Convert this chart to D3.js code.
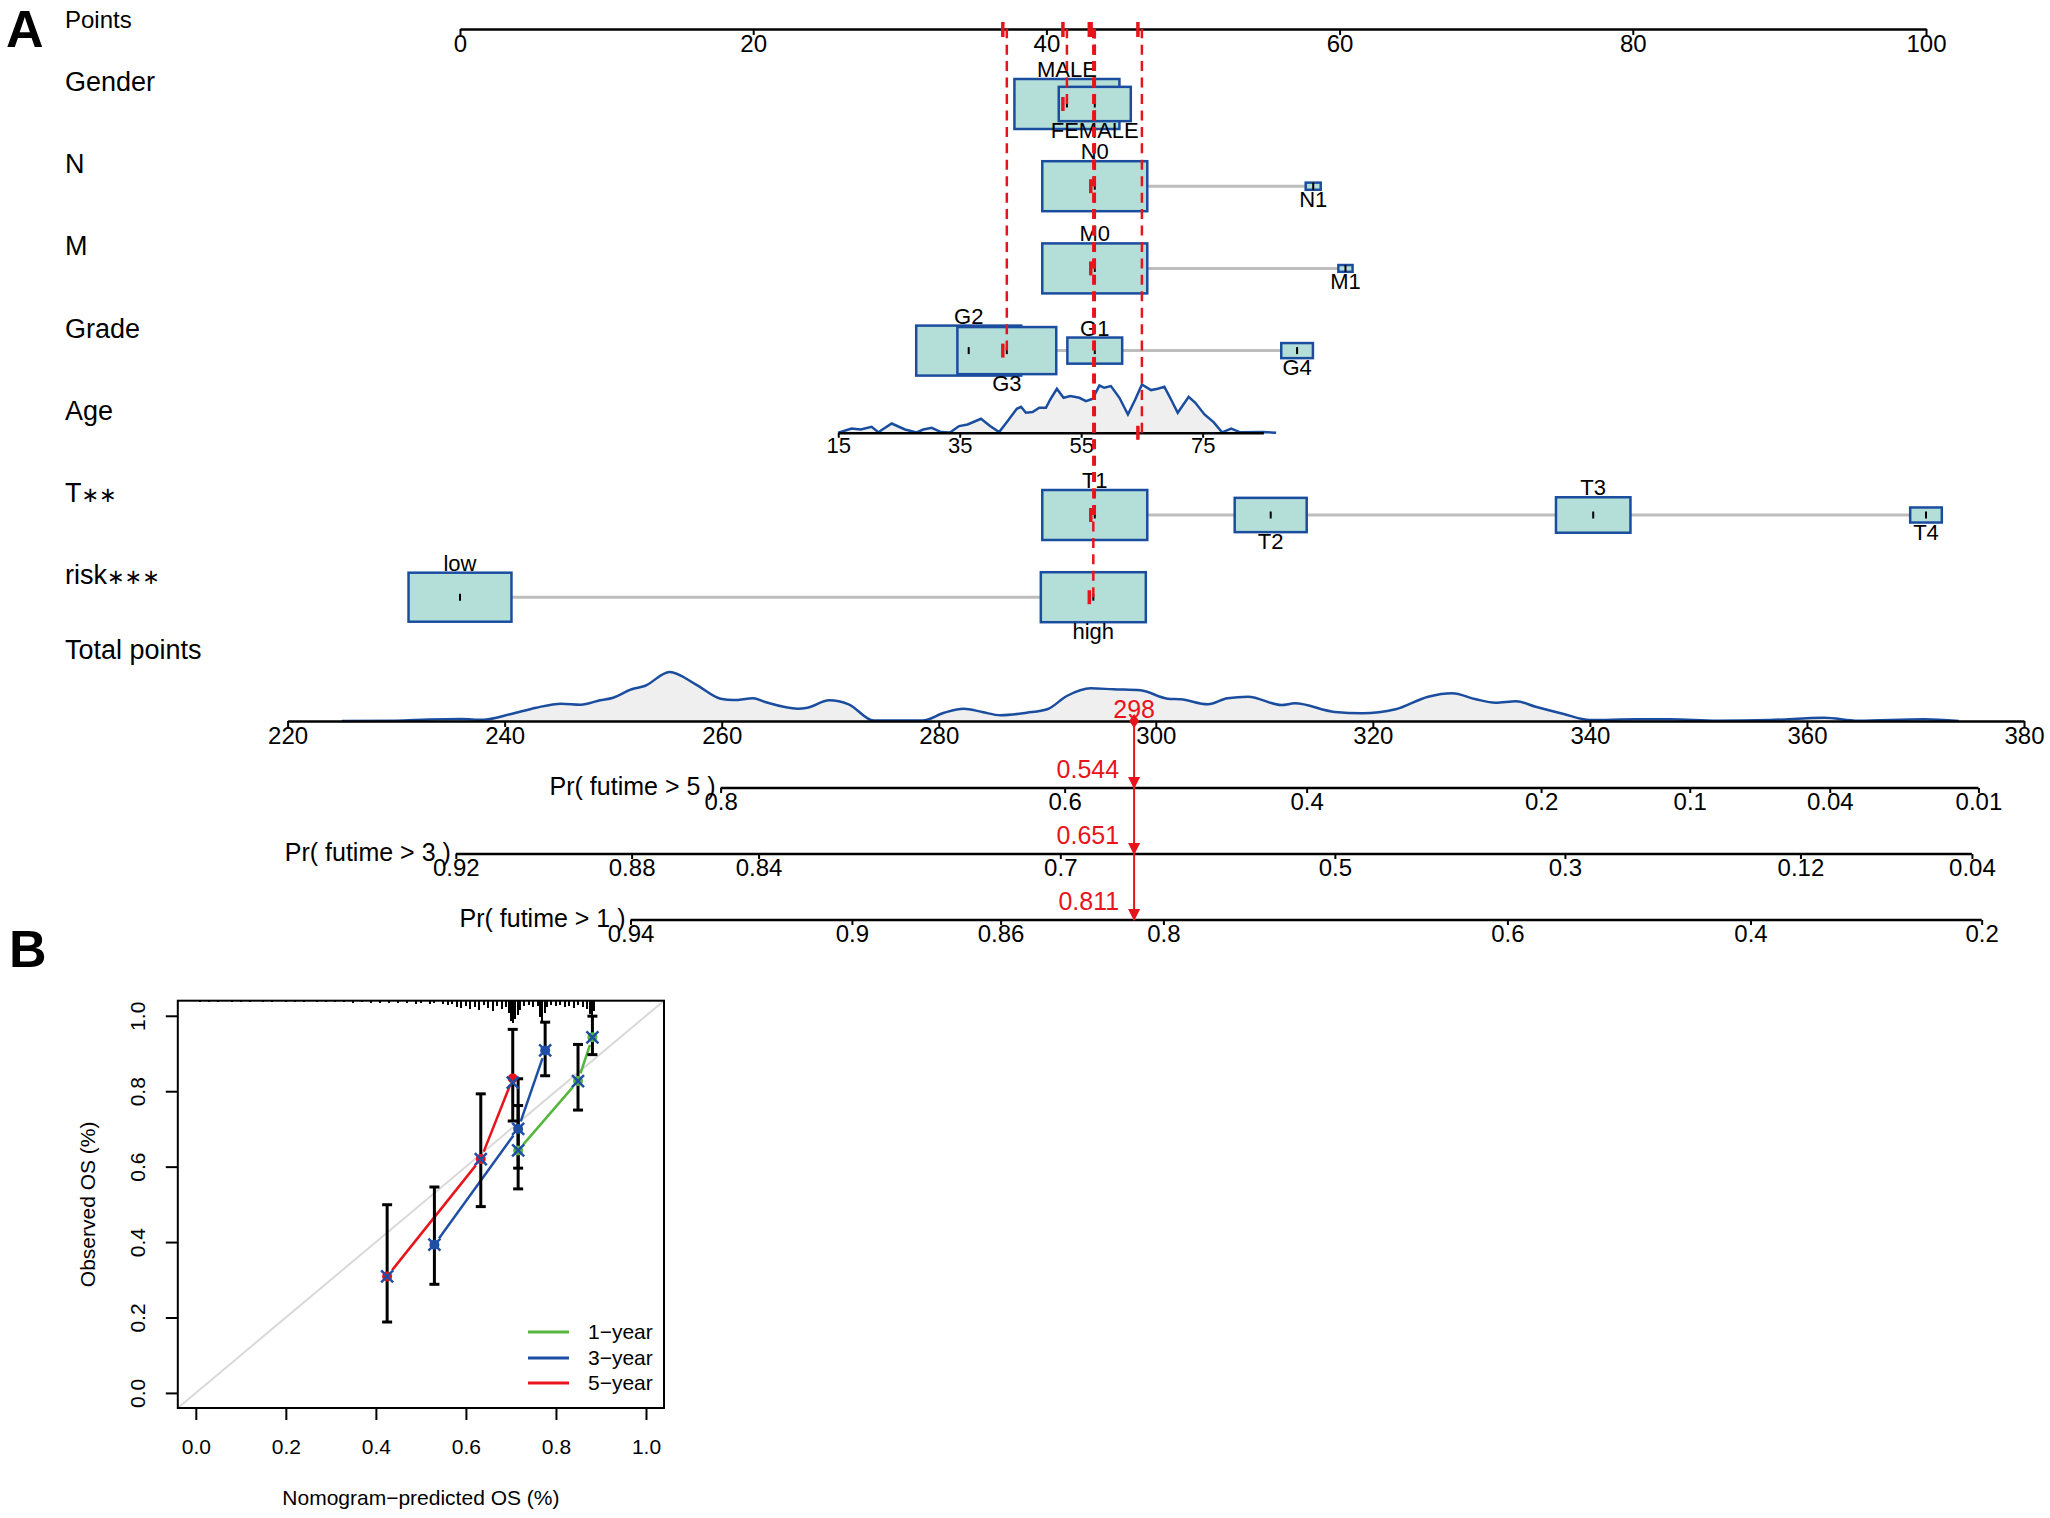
<!DOCTYPE html>
<html>
<head>
<meta charset="utf-8">
<script src="https://cdn.jsdelivr.net/npm/d3@7"></script>
<style>
  body { margin: 0; background: #fff; }
</style>
</head>
<body>
<div id="chart"></div>
<script>
// ---------- panel A : nomogram ----------
const pointTicks = [0, 20, 40, 60, 80, 100];

const genderCats = ["MALE", "FEMALE"];
const genderPts = [41.4, 43.3];
const genderFreq = [0.68, 0.32];

const nCats = ["N0", "N1"];
const nPts = [43.3, 58.2];
const nFreq = [0.98, 0.02];

const mCats = ["M0", "M1"];
const mPts = [43.3, 60.4];
const mFreq = [0.98, 0.018];

const gradeCats = ["G2", "G3", "G1", "G4"];
const gradePts = [34.7, 37.3, 43.3, 57.1];
const gradeFreq = [0.44, 0.39, 0.12, 0.04];

const ageTicks = [15, 35, 55, 75];
const ageRange = [15, 85];
const agePtsRange = [25.8, 54.8];
// [age, density]
const ageDens = [[15,0],[17.2,4.3],[18.7,3.3],[20.5,6],[21.6,0.5],[23.8,9.3],[26,3.3],[27.9,0.3],
  [29,3.3],[30.4,5],[31.9,0.7],[33.4,0.3],[34.9,6.7],[36.3,8.3],[38.5,14],[40,6.7],[41.5,0.7],
  [42.9,11.7],[44.4,24],[45.1,26],[45.9,20],[47,20.7],[48.1,25],[49.2,25],[49.9,33.3],[51,44],
  [52.1,35],[53.2,36.7],[54.7,35],[55.8,31.7],[56.9,34],[58,47.3],[58.8,45],[59.9,46.7],[61.3,35],
  [62.7,18.3],[63.9,33.3],[65,48.3],[66.5,42.7],[67.6,44],[68.7,46],[69.8,33.3],[70.9,20],[72.7,36],
  [73.8,30],[75.3,18.3],[76.8,10.7],[78.2,0.5],[79.7,4.3],[81.2,0.5],[84.9,0.8],[87.1,0]];

const tCats = ["T1", "T2", "T3", "T4"];
const tPts = [43.3, 55.3, 77.3, 100];
const tFreq = [0.485, 0.228, 0.244, 0.044];

const riskCats = ["low", "high"];
const riskPts = [0, 43.2];
const riskFreq = [0.49, 0.51];

const totalTicks = [220, 240, 260, 280, 300, 320, 340, 360, 380];
// [total points, density]
const totalDens = [[225,0],[230,0.3],[233,1.5],[236,2],[238,1.2],[240.5,6.7],[242.9,13.3],[245.2,17.3],
  [247,16.3],[248.8,20.7],[250,23.3],[251.7,31.7],[252.9,35],[255.2,49],[257.6,36.7],[259.9,22.3],
  [261.1,21],[262.9,22.7],[264,19],[267,12.3],[267.9,13.3],[269.9,20.7],[271.7,16.7],[274,0.5],
  [278.5,0.5],[280.5,8.3],[282.3,12.3],[284,9],[285.7,5.7],[288.1,8.3],[290,11.7],[291.8,25],
  [294,32.7],[296.1,31.7],[298.6,30.7],[301.1,22.3],[302.3,21.7],[304.8,16.7],[306.6,22.7],
  [308.5,24.3],[311.6,16],[312.8,17.7],[316.5,9],[319,7.7],[322.1,11.7],[325.1,24.3],[327.3,27.7],
  [329.5,21.7],[331.3,18.3],[333.2,19.7],[335,14.3],[337.5,7.3],[340,1],[344.3,1.7],[347.4,1.7],
  [351.7,0.3],[356.6,1],[361.6,3.3],[364.7,0.3],[370.8,1.7],[374,0]];

const pr5Labels = ["0.8", "0.6", "0.4", "0.2", "0.1", "0.04", "0.01"];
const pr5At = [259.9, 291.6, 313.9, 335.5, 349.2, 362.1, 375.8];
const pr3Labels = ["0.92", "0.88", "0.84", "0.7", "0.5", "0.3", "0.12", "0.04"];
const pr3At = [235.5, 251.7, 263.4, 291.2, 316.5, 337.7, 359.4, 375.2];
const pr1Labels = ["0.94", "0.9", "0.86", "0.8", "0.6", "0.4", "0.2"];
const pr1At = [251.6, 272.0, 285.7, 300.7, 332.4, 354.8, 376.1];

const patientCats = ["MALE", "N0", "M0", "G3", null, "T1", "high"];
const patientAge = 65;
const patientTotal = 298;
const patientProb = ["0.544", "0.651", "0.811"];

// ---------- panel B : calibration ----------
const calTicks = [0, 0.2, 0.4, 0.6, 0.8, 1.0];
const cal1Pred = [0.716, 0.849, 0.881];
const cal1Obs = [0.643, 0.827, 0.943];
const cal1Lo = [0.541, 0.750, 0.897];
const cal1Hi = [0.762, 0.924, 0.999];
const cal3Pred = [0.530, 0.716, 0.776];
const cal3Obs = [0.393, 0.700, 0.908];
const cal3Lo = [0.288, 0.596, 0.841];
const cal3Hi = [0.546, 0.833, 0.983];
const cal5Pred = [0.425, 0.633, 0.704];
const cal5Obs = [0.309, 0.620, 0.834];
const cal5Cor = [0.309, 0.620, 0.823];
const cal5Lo = [0.188, 0.494, 0.721];
const cal5Hi = [0.499, 0.793, 0.964];
const calNames = ["1\u2212year", "3\u2212year", "5\u2212year"];
// [predicted, frequency] of the rug along the top
const rugTicks = [[0.01,1],[0.03,1],[0.05,1],[0.08,1],[0.10,1],[0.12,1],[0.15,1],[0.17,1],[0.20,1],
  [0.22,1],[0.24,1],[0.27,1],[0.29,1],[0.31,1],[0.33,1],[0.35,2],[0.37,1],[0.39,2],[0.41,2],[0.43,2],
  [0.45,2],[0.47,2],[0.49,3],[0.50,2],[0.52,3],[0.53,2],[0.55,3],[0.56,4],[0.57,3],[0.58,6],[0.59,7],
  [0.60,5],[0.61,8],[0.62,6],[0.63,9],[0.64,4],[0.65,7],[0.66,10],[0.67,5],[0.68,8],[0.69,6],
  [0.695,12],[0.70,20],[0.705,22],[0.71,18],[0.715,14],[0.72,9],[0.73,5],[0.74,4],[0.75,6],[0.76,5],
  [0.765,16],[0.77,20],[0.775,12],[0.78,6],[0.79,4],[0.80,5],[0.81,4],[0.82,6],[0.83,5],[0.84,7],
  [0.85,4],[0.86,6],[0.87,8],[0.875,13],[0.88,16],[0.885,10]];

const FONT = '"Liberation Sans", Arial, Helvetica, sans-serif';
const RED = "#e8141b";
const BLUE = "#1b4d9f";
const BOXFILL = "#b4dfd8";
const GREEN = "#55b53f";
const CALBLUE = "#1f4fa5";

const width = 2050, height = 1518;
const svg = d3.select("#chart").append("svg")
    .attr("width", width)
    .attr("height", height)
    .attr("font-family", FONT);

const xPts = d3.scaleLinear().domain([0, 100]).range([460, 1926]);
const xTot = d3.scaleLinear().domain([220, 380]).range([287.6, 2024]);
const agePts = d3.scaleLinear().domain(ageRange).range(agePtsRange);
const xAge = d3.scaleLinear().domain(ageRange).range(agePtsRange.map(xPts));
const densY = d3.scaleLinear().domain([0, 50]).range([0, 50]);

const rowY = i => 104 + i * 82.2;
const pointsAxisY = 29;
const totalAxisY = 721;
const prAxisY = [788, 854, 920];

function styleAxis(g, fs) {
    g.attr("font-family", FONT).attr("font-size", fs);
    g.select(".domain").attr("stroke", "#000").attr("stroke-width", 2.5);
    g.selectAll(".tick line").attr("stroke", "#000").attr("stroke-width", 2);
    g.selectAll(".tick text").attr("fill", "#000");
}

// panel letters
svg.append("text").attr("x", 6).attr("y", 47).attr("font-size", 52)
    .attr("font-weight", "bold").text("A");
svg.append("text").attr("x", 9).attr("y", 967).attr("font-size", 52)
    .attr("font-weight", "bold").text("B");

// row labels
svg.append("text").attr("x", 65).attr("y", 28).attr("font-size", 24).text("Points");
const rows = [
    { label: "Gender", cats: genderCats, pts: genderPts, freq: genderFreq },
    { label: "N", cats: nCats, pts: nPts, freq: nFreq },
    { label: "M", cats: mCats, pts: mPts, freq: mFreq },
    { label: "Grade", cats: gradeCats, pts: gradePts, freq: gradeFreq },
    { label: "Age", age: true },
    { label: "T", stars: "\u2217\u2217", cats: tCats, pts: tPts, freq: tFreq },
    { label: "risk", stars: "\u2217\u2217\u2217", cats: riskCats, pts: riskPts, freq: riskFreq }
];
rows.forEach((r, i) => {
    const t = svg.append("text").attr("x", 65).attr("y", rowY(i) - 13)
        .attr("font-size", 27).text(r.label);
    if (r.stars) t.append("tspan").attr("font-size", 21)
        .attr("font-family", "DejaVu Sans").text(r.stars);
});
svg.append("text").attr("x", 65).attr("y", 659).attr("font-size", 27).text("Total points");

// points axis
svg.append("g").attr("transform", `translate(0,${pointsAxisY})`)
    .call(d3.axisBottom(xPts).tickValues(pointTicks).tickSize(6).tickSizeOuter(0).tickPadding(0))
    .call(g => styleAxis(g, 24));

// categorical rows
const maxW = 105, maxH = 50;
rows.forEach((r, i) => {
    if (r.age) return;
    const y = rowY(i);
    const fmax = d3.max(r.freq);
    const items = r.cats.map((c, k) => {
        const s = Math.sqrt(r.freq[k] / fmax);
        return { cat: c, x: xPts(r.pts[k]), w: maxW * s, h: maxH * s };
    });
    const g = svg.append("g");
    g.append("line")
        .attr("x1", d3.min(items, d => d.x)).attr("x2", d3.max(items, d => d.x))
        .attr("y1", y).attr("y2", y)
        .attr("stroke", "#bdbdbd").attr("stroke-width", 3);
    g.selectAll("rect").data(items).enter().append("rect")
        .attr("x", d => d.x - d.w / 2).attr("y", d => y - d.h / 2)
        .attr("width", d => d.w).attr("height", d => d.h)
        .attr("fill", BOXFILL).attr("stroke", BLUE).attr("stroke-width", 2.5);
    g.selectAll(".ctick").data(items).enter().append("line")
        .attr("x1", d => d.x).attr("x2", d => d.x)
        .attr("y1", y - 3.5).attr("y2", y + 3.5)
        .attr("stroke", "#000").attr("stroke-width", 2);
    const order = items.slice().sort((a, b) => a.x - b.x);
    order.forEach((d, k) => {
        const above = k % 2 === 0;
        g.append("text").attr("x", d.x)
            .attr("y", above ? y - d.h / 2 - 2 : y + d.h / 2 + 17)
            .attr("text-anchor", "middle").attr("font-size", 22).text(d.cat);
    });
});

// age row
const ageY = rowY(4);
svg.append("path").datum(ageDens)
    .attr("d", d3.area().x(d => xAge(d[0])).y0(ageY).y1(d => ageY - densY(d[1])))
    .attr("fill", "#efefef");
svg.append("path").datum(ageDens)
    .attr("d", d3.line().x(d => xAge(d[0])).y(d => ageY - densY(d[1])))
    .attr("fill", "none").attr("stroke", BLUE).attr("stroke-width", 2.5);
svg.append("g").attr("transform", `translate(0,${ageY})`)
    .call(d3.axisBottom(xAge).tickValues(ageTicks).tickSize(5).tickSizeOuter(0).tickPadding(0))
    .call(g => styleAxis(g, 22));

// total points
svg.append("path").datum(totalDens)
    .attr("d", d3.area().curve(d3.curveMonotoneX).x(d => xTot(d[0])).y0(totalAxisY).y1(d => totalAxisY - densY(d[1])))
    .attr("fill", "#efefef");
svg.append("path").datum(totalDens)
    .attr("d", d3.line().curve(d3.curveMonotoneX).x(d => xTot(d[0])).y(d => totalAxisY - densY(d[1])))
    .attr("fill", "none").attr("stroke", BLUE).attr("stroke-width", 2.5);
svg.append("g").attr("transform", `translate(0,${totalAxisY})`)
    .call(d3.axisBottom(xTot).tickValues(totalTicks).tickSize(6).tickSizeOuter(0).tickPadding(0))
    .call(g => styleAxis(g, 24));

// survival probability axes
const prAxes = [
    { title: "Pr( futime > 5 )", labels: pr5Labels, at: pr5At },
    { title: "Pr( futime > 3 )", labels: pr3Labels, at: pr3At },
    { title: "Pr( futime > 1 )", labels: pr1Labels, at: pr1At }
];
prAxes.forEach((a, i) => {
    const y = prAxisY[i];
    const g = svg.append("g").attr("transform", `translate(0,${y})`)
        .call(d3.axisBottom(xTot).tickValues(a.at).tickSize(5).tickSizeOuter(0).tickPadding(0)
            .tickFormat((d, k) => a.labels[k]))
        .call(g => styleAxis(g, 24));
    g.select(".domain").remove();
    g.append("line").attr("x1", xTot(a.at[0])).attr("x2", xTot(a.at[a.at.length - 1]))
        .attr("stroke", "#000").attr("stroke-width", 2.5);
    svg.append("text").attr("x", xTot(a.at[0]) - 5).attr("y", y + 7)
        .attr("text-anchor", "end").attr("font-size", 25).text(a.title);
});

// patient: red dashed guides
const patientX = [];
rows.forEach((r, i) => {
    if (r.age) { patientX.push(xPts(agePts(patientAge))); return; }
    const k = r.cats.indexOf(patientCats[i]);
    patientX.push(xPts(r.pts[k]));
});
const guides = svg.append("g");
patientX.forEach((x, i) => {
    const y = rowY(i);
    guides.append("path").attr("d", `M${x},${y}L${x},${pointsAxisY}`)
        .attr("stroke", RED).attr("stroke-width", 2.5).attr("fill", "none")
        .attr("stroke-dasharray", "10,6.44");
    guides.append("line").attr("x1", x - 4).attr("x2", x - 4)
        .attr("y1", pointsAxisY - 7).attr("y2", pointsAxisY + 8)
        .attr("stroke", RED).attr("stroke-width", 3.5);
    guides.append("line").attr("x1", x - 4).attr("x2", x - 4)
        .attr("y1", y - 7).attr("y2", y + 7)
        .attr("stroke", RED).attr("stroke-width", 3.5);
});

// total points arrow
const tx = xTot(patientTotal);
svg.append("line").attr("x1", tx).attr("x2", tx)
    .attr("y1", totalAxisY).attr("y2", prAxisY[2])
    .attr("stroke", RED).attr("stroke-width", 2);
svg.append("path")
    .attr("d", `M${tx},${totalAxisY - 7}L${tx + 5},${totalAxisY}L${tx},${totalAxisY + 7}L${tx - 5},${totalAxisY}Z`)
    .attr("fill", RED);
svg.append("text").attr("x", tx).attr("y", totalAxisY - 3)
    .attr("text-anchor", "middle").attr("font-size", 25).attr("fill", RED).text(patientTotal);
prAxisY.forEach((y, i) => {
    svg.append("path").attr("d", `M${tx - 6},${y - 11}L${tx + 6},${y - 11}L${tx},${y + 1}Z`)
        .attr("fill", RED);
    svg.append("text").attr("x", tx - 15).attr("y", y - 10)
        .attr("text-anchor", "end").attr("font-size", 25).attr("fill", RED).text(patientProb[i]);
});

// ---------- panel B ----------
const bx = d3.scaleLinear().domain([-0.04, 1.04]).range([177.8, 664]);
const by = d3.scaleLinear().domain([-0.04, 1.04]).range([1408, 1000.7]);
const B = svg.append("g");

B.append("defs").append("clipPath").attr("id", "calclip").append("rect")
    .attr("x", bx(-0.04)).attr("y", by(1.04))
    .attr("width", bx(1.04) - bx(-0.04)).attr("height", by(-0.04) - by(1.04));

B.append("line").attr("clip-path", "url(#calclip)")
    .attr("x1", bx(-0.04)).attr("y1", by(-0.04)).attr("x2", bx(1.04)).attr("y2", by(1.04))
    .attr("stroke", "#d9d9d9").attr("stroke-width", 2);

// rug
const rugH = d3.scaleLinear().domain([0, 22]).range([0, 22]);
B.selectAll(".rug").data(rugTicks).enter().append("line")
    .attr("x1", d => bx(d[0])).attr("x2", d => bx(d[0]))
    .attr("y1", by(1.04)).attr("y2", d => by(1.04) + rugH(d[1]))
    .attr("stroke", "#000").attr("stroke-width", 2)
    .attr("shape-rendering", "crispEdges");

const calSeries = [
    { pred: cal1Pred, obs: cal1Obs, cor: cal1Obs, lo: cal1Lo, hi: cal1Hi, color: GREEN },
    { pred: cal3Pred, obs: cal3Obs, cor: cal3Obs, lo: cal3Lo, hi: cal3Hi, color: CALBLUE },
    { pred: cal5Pred, obs: cal5Obs, cor: cal5Cor, lo: cal5Lo, hi: cal5Hi, color: RED }
];

// lines with gaps at the points (type = "b")
const gap = 8;
calSeries.forEach(s => {
    for (let k = 0; k < s.pred.length - 1; k++) {
        const x1 = bx(s.pred[k]), y1 = by(s.obs[k]);
        const x2 = bx(s.pred[k + 1]), y2 = by(s.obs[k + 1]);
        const len = Math.hypot(x2 - x1, y2 - y1);
        if (len <= 2 * gap) continue;
        const ux = (x2 - x1) / len, uy = (y2 - y1) / len;
        B.append("line")
            .attr("x1", x1 + ux * gap).attr("y1", y1 + uy * gap)
            .attr("x2", x2 - ux * gap).attr("y2", y2 - uy * gap)
            .attr("stroke", s.color).attr("stroke-width", 2.5);
    }
});
// error bars
calSeries.forEach(s => {
    s.pred.forEach((p, k) => {
        const x = bx(p);
        B.append("line").attr("x1", x).attr("x2", x)
            .attr("y1", by(s.lo[k])).attr("y2", by(s.hi[k]))
            .attr("stroke", "#000").attr("stroke-width", 3);
        [s.lo[k], s.hi[k]].forEach(v => {
            B.append("line").attr("x1", x - 5).attr("x2", x + 5)
                .attr("y1", by(v)).attr("y2", by(v))
                .attr("stroke", "#000").attr("stroke-width", 3);
        });
    });
});
// points
calSeries.forEach(s => {
    s.pred.forEach((p, k) => {
        B.append("circle").attr("cx", bx(p)).attr("cy", by(s.obs[k])).attr("r", 5)
            .attr("fill", s.color);
    });
});
calSeries.forEach(s => {
    s.pred.forEach((p, k) => {
        const x = bx(p), y = by(s.cor[k]);
        B.append("path").attr("d", `M${x - 6},${y - 6}L${x + 6},${y + 6}M${x - 6},${y + 6}L${x + 6},${y - 6}`)
            .attr("stroke", CALBLUE).attr("stroke-width", 2.5);
    });
});

// box and axes
B.append("rect").attr("x", bx(-0.04)).attr("y", by(1.04))
    .attr("width", bx(1.04) - bx(-0.04)).attr("height", by(-0.04) - by(1.04))
    .attr("fill", "none").attr("stroke", "#000").attr("stroke-width", 2);

const fmt = d3.format(".1f");
B.append("g").attr("transform", `translate(0,${by(-0.04)})`)
    .call(d3.axisBottom(bx).tickValues(calTicks).tickFormat(fmt).tickSize(12).tickSizeOuter(0).tickPadding(19))
    .call(g => {
        styleAxis(g, 21);
        g.select(".domain").remove();
    });
B.append("g").attr("transform", `translate(${bx(-0.04)},0)`)
    .call(d3.axisLeft(by).tickValues(calTicks).tickFormat(fmt).tickSize(12).tickSizeOuter(0))
    .call(g => {
        styleAxis(g, 21);
        g.select(".domain").remove();
        g.selectAll(".tick text")
            .attr("x", null).attr("dy", null)
            .attr("text-anchor", "middle")
            .attr("transform", "translate(-33,0) rotate(-90)");
    });

B.append("text")
    .attr("transform", `translate(95,${(by(1.04) + by(-0.04)) / 2}) rotate(-90)`)
    .attr("text-anchor", "middle").attr("font-size", 21).text("Observed OS (%)");
B.append("text")
    .attr("x", (bx(-0.04) + bx(1.04)) / 2).attr("y", 1505)
    .attr("text-anchor", "middle").attr("font-size", 21).text("Nomogram\u2212predicted OS (%)");

// legend
const legY = [1332, 1358, 1383];
calSeries.forEach((s, i) => {
    B.append("line").attr("x1", 528).attr("x2", 569)
        .attr("y1", legY[i]).attr("y2", legY[i])
        .attr("stroke", s.color).attr("stroke-width", 3);
    B.append("text").attr("x", 588).attr("y", legY[i] + 7)
        .attr("font-size", 21).text(calNames[i]);
});
</script>
</body>
</html>
